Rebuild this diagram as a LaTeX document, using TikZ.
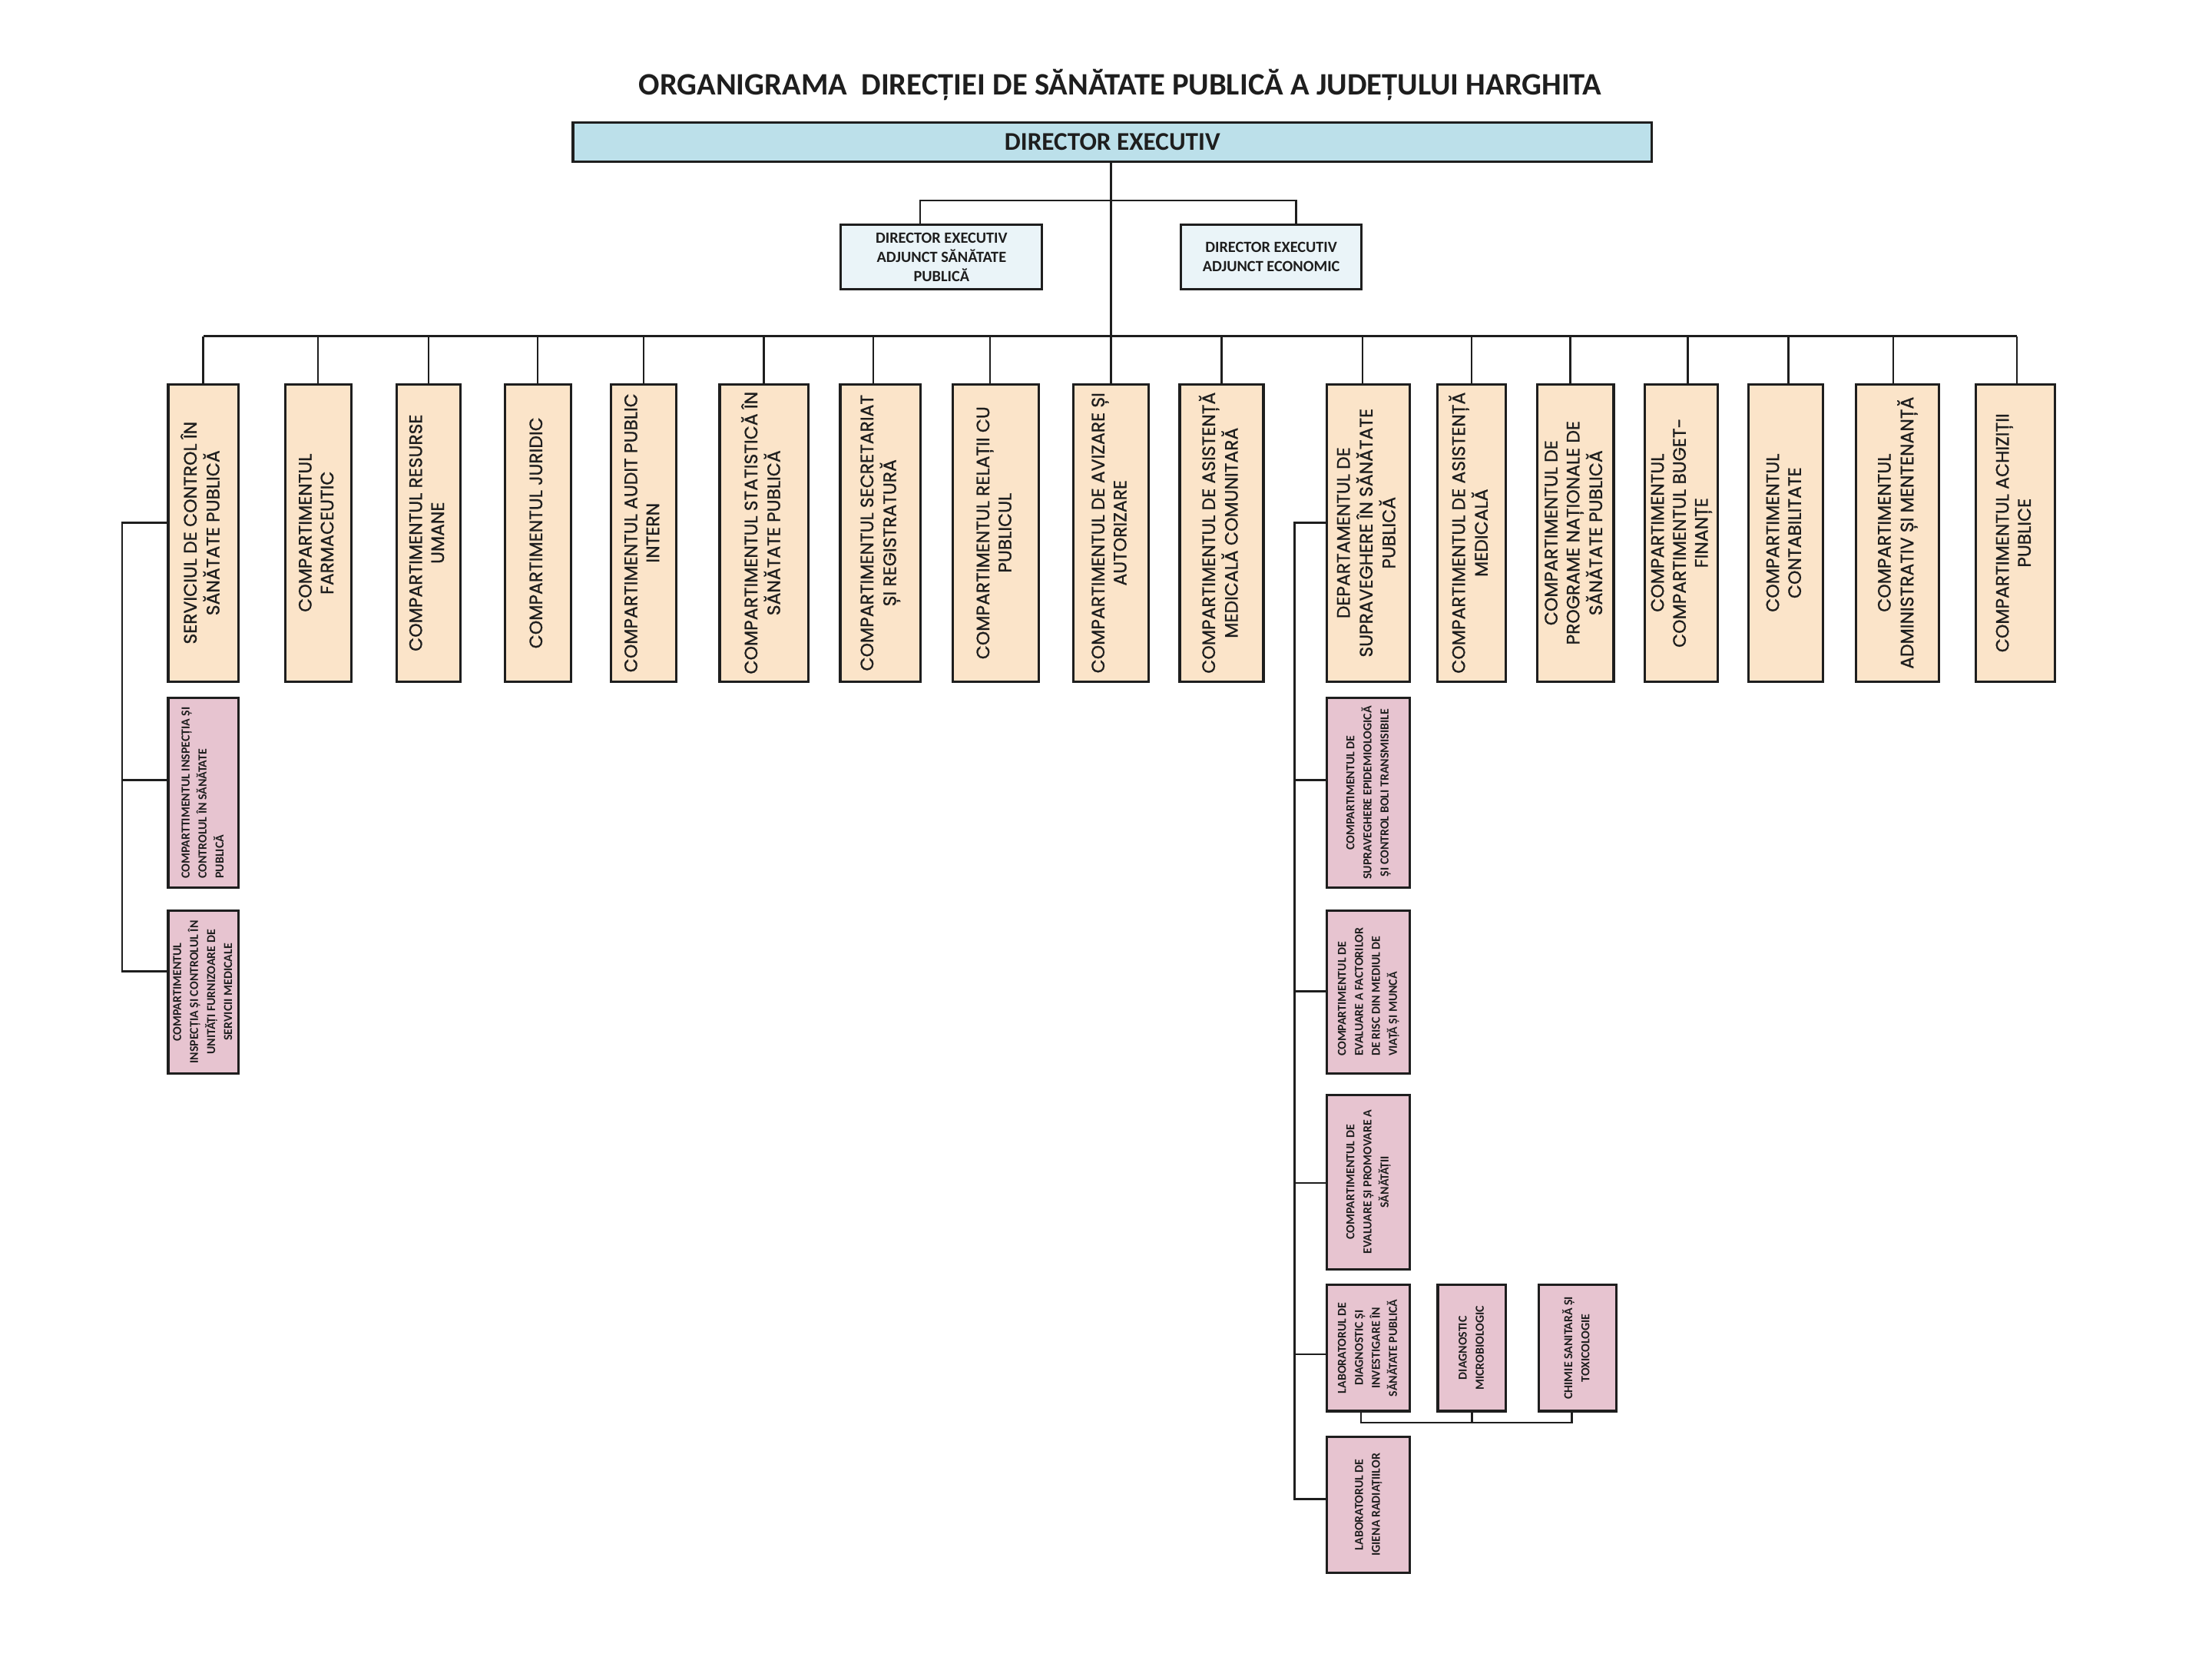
\documentclass[tikz,border=0pt]{standalone}
\usepackage{fontspec}
\usepackage{graphicx}
\setmainfont{Poppins}
\newfontfamily\colfont{Poppins}[FakeBold=1]
\newfontfamily\cfont{Carlito}
\definecolor{peach}{HTML}{FBE4C9}
\definecolor{pinkf}{HTML}{E7C4D0}
\definecolor{dirblue}{HTML}{BCE0EA}
\definecolor{adjblue}{HTML}{EAF4F8}
\definecolor{ink}{HTML}{1E1E1E}
\newcommand\rtxt[2]{\rotatebox{90}{\begin{tabular}{@{}#1@{}}#2\end{tabular}}}
\newcommand\vbx[7]{\node[#1, minimum width={#4-#3}, minimum height={#6-#5}] (#2) at ({(#3+#4)/2},{(#5+#6)/2}) {#7};}
\tikzset{
  col/.style={draw=ink, line width=1.7pt, fill=peach, inner sep=0pt, text=ink, font=\colfont\fontsize{12.7}{15.5}\selectfont},
  pk/.style={draw=ink, line width=1.7pt, fill=pinkf, inner sep=0pt, text=ink, font=\cfont\bfseries\fontsize{8.6}{12}\selectfont},
  conn/.style={line width=1.3pt, draw=ink},
}
\begin{document}
\begin{tikzpicture}[x=1pt,y=-1pt]
\useasboundingbox[fill=white] (0,0) rectangle (1560,1170);
% title
\node[anchor=base, text=ink, font=\cfont\bfseries\fontsize{22}{24}\selectfont] (title) at (790,67) {ORGANIGRAMA\ \ DIRECȚIEI DE SĂNĂTATE PUBLICĂ A JUDEȚULUI HARGHITA};
% director
\vbx{draw=ink, line width=1.8pt, fill=dirblue, inner sep=0pt, text=ink, font=\cfont\bfseries\fontsize{18}{20}\selectfont}{dir}{404}{1165}{86.5}{114}{DIRECTOR EXECUTIV}
\vbx{draw=ink, line width=1.6pt, fill=adjblue, inner sep=0pt, text=ink, align=center, font=\cfont\bfseries\fontsize{11}{13.5}\selectfont}{adj1}{593}{735}{158.5}{204}{DIRECTOR EXECUTIV\\ADJUNCT SĂNĂTATE\\PUBLICĂ}
\vbx{draw=ink, line width=1.6pt, fill=adjblue, inner sep=0pt, text=ink, align=center, font=\cfont\bfseries\fontsize{11}{13.5}\selectfont}{adj2}{833}{960}{158.5}{204}{DIRECTOR EXECUTIV\\ADJUNCT ECONOMIC}
% columns
\vbx{col}{c1}{118.6}{168}{271}{480.5}{\rtxt{c}{SERVICIUL DE CONTROL ÎN\\SĂNĂTATE PUBLICĂ}}
\vbx{col}{c2}{201}{247.6}{271}{480.5}{\rtxt{c}{COMPARTIMENTUL\\FARMACEUTIC}}
\vbx{col}{c3}{280}{324.5}{271}{480.5}{\rtxt{c}{COMPARTIMENTUL RESURSE\\UMANE}}
\vbx{col}{c4}{356}{402.6}{271}{480.5}{\rtxt{c}{COMPARTIMENTUL JURIDIC}}
\vbx{col}{c5}{431}{477}{271}{480.5}{\rtxt{c}{COMPARTIMENTUL AUDIT PUBLIC\\INTERN}}
\vbx{col}{c6}{507.5}{570}{271}{480.5}{\rtxt{c}{COMPARTIMENTUL STATISTICĂ ÎN\\SĂNĂTATE PUBLICĂ}}
\vbx{col}{c7}{592.6}{649}{271}{480.5}{\rtxt{c}{COMPARTIMENTUL SECRETARIAT\\ȘI REGISTRATURĂ}}
\vbx{col}{c8}{672}{732.7}{271}{480.5}{\rtxt{c}{COMPARTIMENTUL RELAȚII CU\\PUBLICUL}}
\vbx{col}{c9}{757}{810}{271}{480.5}{\rtxt{c}{COMPARTIMENTUL DE AVIZARE ȘI\\AUTORIZARE}}
\vbx{col}{c10}{832}{891}{271}{480.5}{\rtxt{c}{COMPARTIMENTUL DE ASISTENȚĂ\\MEDICALĂ COMUNITARĂ}}
\vbx{col}{c11}{935.6}{994}{271}{480.5}{\rtxt{c}{DEPARTAMENTUL DE\\SUPRAVEGHERE ÎN SĂNĂTATE\\PUBLICĂ}}
\vbx{col}{c12}{1013.5}{1062}{271}{480.5}{\rtxt{c}{COMPARTIMENTUL DE ASISTENȚĂ\\MEDICALĂ}}
\vbx{col}{c13}{1084}{1138}{271}{480.5}{\rtxt{c}{COMPARTIMENTUL DE\\PROGRAME NAȚIONALE DE\\SĂNĂTATE PUBLICĂ}}
\vbx{col}{c14}{1160}{1211.5}{271}{480.5}{\rtxt{c}{COMPARTIMENTUL\\COMPARTIMENTUL BUGET-\\FINANȚE}}
\vbx{col}{c15}{1233}{1285.5}{271}{480.5}{\rtxt{c}{COMPARTIMENTUL\\CONTABILITATE}}
\vbx{col}{c16}{1309}{1367.5}{271}{480.5}{\rtxt{c}{COMPARTIMENTUL\\ADMINISTRATIV ȘI MENTENANȚĂ}}
\vbx{col}{c17}{1393.5}{1449}{271}{480.5}{\rtxt{c}{COMPARTIMENTUL ACHIZIȚII\\PUBLICE}}
% pink boxes left
\vbx{pk}{pA}{118.6}{168}{492}{626}{\rtxt{l}{COMPARTTIMENTUL INSPECȚIA ȘI\\CONTROLUL ÎN SĂNĂTATE\\PUBLICĂ}}
\vbx{pk}{pB}{118.6}{168}{642}{757}{\rtxt{c}{COMPARTIMENTUL\\INSPECȚIA ȘI CONTROLUL ÎN\\UNITĂȚI FURNIZOARE DE\\SERVICII MEDICALE}}
% pink boxes right
\vbx{pk}{e1}{935.6}{994}{492}{626}{\rtxt{c}{COMPARTIMENTUL DE\\SUPRAVEGHERE EPIDEMIOLOGICĂ\\ȘI CONTROL BOLI TRANSMISIBILE}}
\vbx{pk}{e2}{935.6}{994}{642}{757}{\rtxt{l}{COMPARTIMENTUL DE\\EVALUARE A FACTORILOR\\DE RISC DIN MEDIUL DE\\VIAȚĂ ȘI MUNCĂ}}
\vbx{pk}{e3}{935.6}{994}{772}{895}{\rtxt{c}{COMPARTIMENTUL DE\\EVALUARE ȘI PROMOVARE A\\SĂNĂTĂȚII}}
\vbx{pk}{e4}{935.6}{994}{906}{995}{\rtxt{c}{LABORATORUL DE\\DIAGNOSTIC ȘI\\INVESTIGARE ÎN\\SĂNĂTATE PUBLICĂ}}
\vbx{pk}{e5}{935.6}{994}{1013}{1109}{\rtxt{c}{LABORATORUL DE\\IGIENA RADIAȚIILOR}}
\vbx{pk}{d1}{1014}{1062}{906}{995}{\rtxt{c}{DIAGNOSTIC\\MICROBIOLOGIC}}
\vbx{pk}{d2}{1085}{1140}{906}{995}{\rtxt{c}{CHIMIE SANITARĂ ȘI\\TOXICOLOGIE}}
% connectors
\coordinate (A) at (0,141.5);
\coordinate (bus) at (0,237);
\draw[conn] (dir.south -| c9.north) -- (c9.north);
\draw[conn] ([xshift=-15pt]adj1.north) -- ([xshift=-15pt]adj1.north |- A) -- ([xshift=17.5pt]adj2.north |- A) -- ([xshift=17.5pt]adj2.north);
\draw[conn] (c1.north |- bus) -- ([xshift=1pt]c17.north |- bus);
\foreach \n/\s in {c1/0,c2/0,c3/0,c4/0,c5/0,c6/0,c7/-5,c8/-4,c10/0,c11/-4,c12/0,c13/-3.5,c14/4.5,c15/2,c16/-3,c17/1}
  \draw[conn] ([xshift=\s pt]\n.north) -- ([xshift=\s pt]\n.north |- bus);
% left branch
\coordinate (L0) at (86,368.5);
\coordinate (L1) at (86,550);
\coordinate (L2) at (86,685);
\draw[conn] (c1.west |- L0) -- (L0) -- (L2) -- (pB.west |- L2);
\draw[conn] (L1) -- (pA.west |- L1);
% right branch
\coordinate (R0) at (913,368.5);
\coordinate (R1) at (913,550);
\coordinate (R2) at (913,699);
\coordinate (R3) at (913,834);
\coordinate (R4) at (913,955);
\coordinate (R5) at (913,1057);
\draw[conn] (c11.west |- R0) -- (R0) -- (R5) -- (e5.west |- R5);
\draw[conn] (R1) -- (e1.west |- R1);
\draw[conn] (R2) -- (e2.west |- R2);
\draw[conn] (R3) -- (e3.west |- R3);
\draw[conn] (R4) -- (e4.west |- R4);
% lab sub-bus
\coordinate (S) at (0,1003);
\draw[conn] ([xshift=-5pt]e4.south) -- ([xshift=-5pt]e4.south |- S) -- ([xshift=-4pt]d2.south |- S) -- ([xshift=-4pt]d2.south);
\draw[conn] (d1.south) -- (d1.south |- S);
\end{tikzpicture}
\end{document}
